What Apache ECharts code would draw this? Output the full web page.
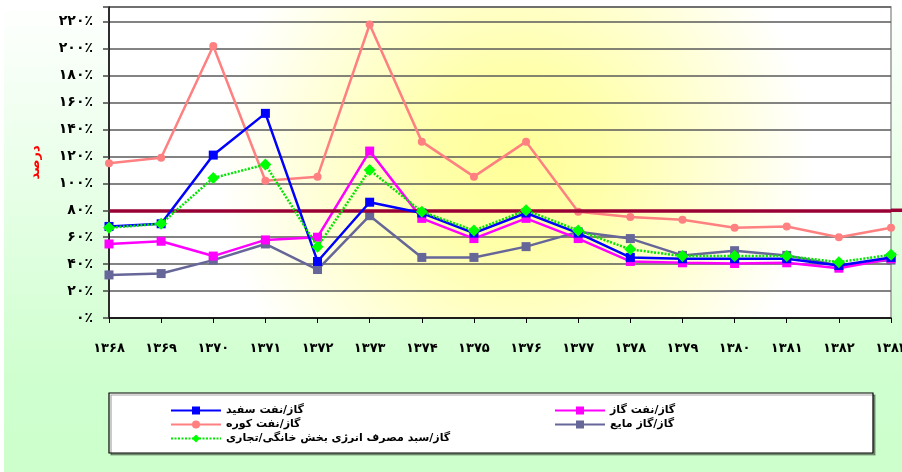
<!DOCTYPE html>
<html>
<head>
<meta charset="utf-8">
<script src="https://cdn.jsdelivr.net/npm/echarts@6/dist/echarts.min.js"></script>
<style>html,body{margin:0;padding:0;background:#fff}#c{width:902px;height:472px}</style>
</head>
<body>
<div id="c"></div>
<script>
const categories = ['۱۳۶۸','۱۳۶۹','۱۳۷۰','۱۳۷۱','۱۳۷۲','۱۳۷۳','۱۳۷۴','۱۳۷۵','۱۳۷۶','۱۳۷۷','۱۳۷۸','۱۳۷۹','۱۳۸۰','۱۳۸۱','۱۳۸۲','۱۳۸۳'];
const yTickLabels = ['۰٪','۲۰٪','۴۰٪','۶۰٪','۸۰٪','۱۰۰٪','۱۲۰٪','۱۴۰٪','۱۶۰٪','۱۸۰٪','۲۰۰٪','۲۲۰٪'];
const seriesNames = ['گاز/نفت سفید','گاز/نفت گاز','گاز/نفت کوره','گاز/گاز مایع','گاز/سبد مصرف انرژی بخش خانگی/تجاری'];
const keroseneRatio = [68, 70, 121, 152, 42, 86, 78, 63, 78, 63, 45, 44, 44, 44, 39, 45];
const gasoilRatio   = [55, 57, 46, 58, 60, 124, 74, 59, 74, 59, 42, 41, 40.5, 41, 37, 44];
const fueloilRatio  = [115, 119, 202, 102, 105, 218, 131, 105, 131, 79, 75, 73, 67, 68, 60, 67];
const lpgRatio      = [32, 33, 43, 55, 36, 76, 45, 45, 53, 64, 59, 46.5, 50, 46.5, 39, 43];
const basketRatio   = [67, 70, 104, 114, 53, 110, 79, 65, 80, 65, 51, 46, 46, 46, 41.5, 47];
const referenceLevel = 80;

const FONT = 'DejaVu Sans';
const chart = echarts.init(document.getElementById('c'));

function lineSeries(name, data, color, symbol, size, extra) {
  return Object.assign({
    name: name, type: 'line', data: data,
    symbol: symbol, symbolSize: size, showSymbol: true,
    lineStyle: {color: color, width: 2.5},
    itemStyle: {color: color, borderWidth: 0},
    emphasis: {disabled: true},
    animation: false
  }, extra || {});
}

const legendCommon = {
  orient: 'vertical', itemWidth: 50, itemHeight: 10, itemGap: 3, z: 5,
  textStyle: {color: '#000', fontFamily: FONT, fontWeight: 'bold', fontSize: 11}
};

const option = {
  animation: false,
  backgroundColor: '#ffffff',
  graphic: [
    {type: 'rect', z: -10, silent: true, shape: {x: 4, y: 0, width: 898, height: 472},
     style: {fill: new echarts.graphic.LinearGradient(0, 0, 0, 1, [
       {offset: 0, color: '#ffffff'}, {offset: 0.45, color: '#e4ffe4'},
       {offset: 0.8, color: '#cfffcf'}, {offset: 1, color: '#ccffcc'}])}},
    {type: 'rect', z: 1, silent: true, shape: {x: 109, y: 393, width: 764, height: 60},
     style: {fill: '#ffffff', stroke: '#000000', lineWidth: 1.2,
       shadowColor: 'rgba(0,0,0,0.35)', shadowOffsetX: 2, shadowOffsetY: 2, shadowBlur: 0}}
  ],
  grid: {
    left: 109, right: 11, top: 7, bottom: 154, show: true,
    outerBoundsMode: 'none', containLabel: false,
    borderColor: '#9a9a9a', borderWidth: 1.5,
    backgroundColor: new echarts.graphic.RadialGradient(0.52, 0.5, 0.95, [
      {offset: 0, color: '#ffff99'}, {offset: 0.3, color: '#ffffaa'},
      {offset: 1, color: '#ffffff'}])
  },
  xAxis: {
    type: 'category', data: categories, boundaryGap: false,
    axisLine: {lineStyle: {color: '#000', width: 1.5}},
    axisTick: {alignWithLabel: true, length: 5, lineStyle: {color: '#000'}},
    axisLabel: {margin: 24, color: '#000', fontFamily: FONT, fontWeight: 'bold', fontSize: 13, interval: 0,
      hideOverlap: false},
    splitLine: {show: false}
  },
  yAxis: {
    type: 'value', min: 0, max: 231, interval: 20,
    name: 'درصد', nameLocation: 'middle', nameRotate: 90, nameGap: 67,
    nameTextStyle: {color: '#ff0000', fontFamily: FONT, fontWeight: 'bold', fontSize: 13},
    axisLine: {show: true, lineStyle: {color: '#000', width: 1.5}},
    axisTick: {show: true, length: 6, lineStyle: {color: '#444', width: 1.5}},
    axisLabel: {margin: 16, color: '#000', fontFamily: FONT, fontWeight: 'bold', fontSize: 14,
      formatter: function (v) { return (v % 20 === 0) ? yTickLabels[v / 20] : ''; }},
    splitLine: {lineStyle: {color: '#5a5a5a', width: 1.5}}
  },
  legend: [
    Object.assign({left: 165, top: 400, data: [seriesNames[0], seriesNames[2], seriesNames[4]]}, legendCommon),
    Object.assign({left: 549, top: 400, data: [seriesNames[1], seriesNames[3]]}, legendCommon)
  ],
  series: [
    lineSeries(seriesNames[2], fueloilRatio, '#ff8080', 'circle', 8, {z: 2,
      markLine: {silent: true, symbol: 'none', label: {show: false}, animation: false,
        lineStyle: {color: '#990033', width: 3.5, type: 'solid'},
        data: [{yAxis: referenceLevel}]}}),
    lineSeries(seriesNames[3], lpgRatio, '#666699', 'rect', 9, {z: 3}),
    lineSeries(seriesNames[1], gasoilRatio, '#ff00ff', 'rect', 9, {z: 4}),
    lineSeries(seriesNames[0], keroseneRatio, '#0000ff', 'rect', 9, {z: 5}),
    lineSeries(seriesNames[4], basketRatio, '#00ff00', 'diamond', 12, {z: 6,
      lineStyle: {color: '#00e600', width: 2.5, type: [2, 1.5]}})
  ]
};
chart.setOption(option);

// extend the reference line beyond the plot's right edge, like the original
const yRef = chart.convertToPixel({yAxisIndex: 0}, referenceLevel);
const xEnd = chart.convertToPixel({xAxisIndex: 0}, categories.length - 1);
chart.setOption({graphic: option.graphic.concat([
  {type: 'line', z: 3, silent: true, shape: {x1: xEnd, y1: yRef, x2: 902, y2: yRef},
   style: {stroke: '#990033', lineWidth: 3.5}}
])});
</script>
</body>
</html>
